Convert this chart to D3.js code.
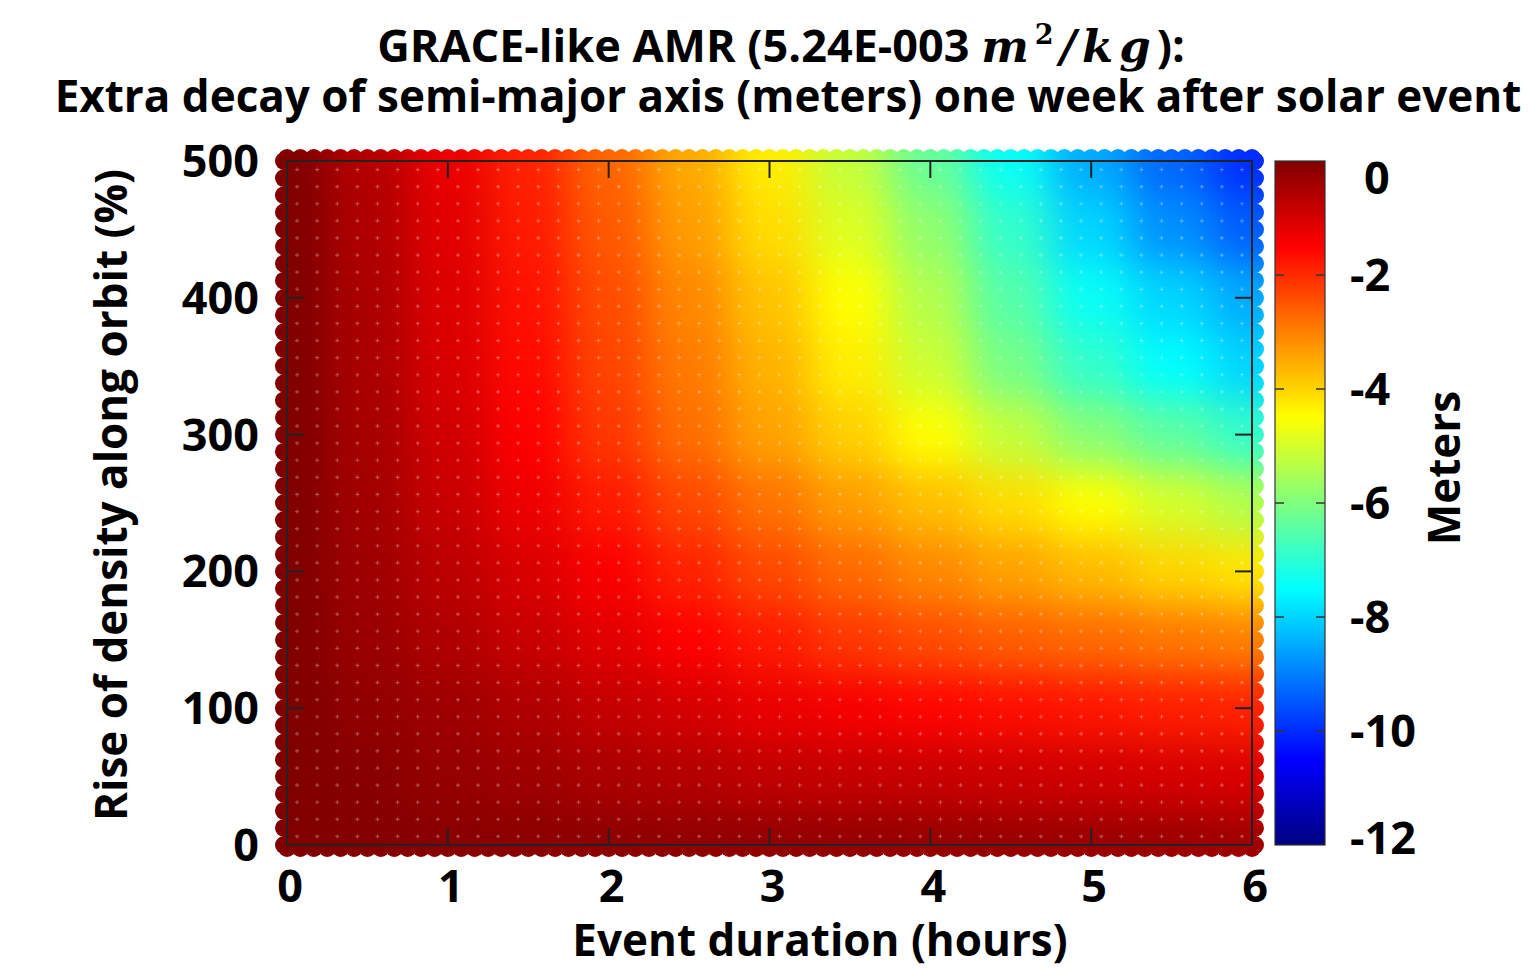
<!DOCTYPE html>
<meta charset="utf-8">
<script src="https://d3js.org/d3.v7.min.js"></script>
<style>
  body { margin: 0; background: #fff; }
  text { font-family: "Open Sans", Lato, sans-serif; font-weight: bold; fill: #000; }
</style>
<div id="chart"></div>
<script>

// event duration (hours), one column per value
var durationHours = [0, 0.5, 1, 1.5, 2, 2.5, 3, 3.5, 4, 4.5, 5, 5.5, 6];
// rise of density along orbit (%), one row per value, top row first
var densityRise = [500, 450, 400, 350, 300, 250, 200, 150, 100, 50, 0];
// extra decay of semi-major axis (meters), rows follow densityRise
var decayRows = [
  [0, -0.6,  -1.25, -1.9,  -2.7,  -3.5,  -4.3,  -5.2,  -6.3,  -7.4,  -8.5,  -9.3,  -10.0],
  [0, -0.55, -1.15, -1.8,  -2.55, -3.35, -4.1,  -4.9,  -5.8,  -6.9,  -8.0,  -8.8,  -9.4],
  [0, -0.5,  -1.1,  -1.7,  -2.4,  -3.1,  -3.8,  -4.5,  -5.4,  -6.5,  -7.4,  -8.0,  -8.5],
  [0, -0.5,  -1.05, -1.6,  -2.3,  -2.95, -3.6,  -4.3,  -5.1,  -6.1,  -6.9,  -7.5,  -8.0],
  [0, -0.45, -0.95, -1.5,  -2.15, -2.8,  -3.4,  -3.95, -4.5,  -5.2,  -5.9,  -6.4,  -6.9],
  [0, -0.4,  -0.85, -1.3,  -1.8,  -2.35, -2.85, -3.35, -3.75, -4.1,  -4.5,  -5.0,  -5.4],
  [0, -0.35, -0.7,  -1.05, -1.45, -1.9,  -2.35, -2.75, -3.1,  -3.4,  -3.7,  -4.0,  -4.2],
  [0, -0.3,  -0.55, -0.85, -1.15, -1.5,  -1.8,  -2.15, -2.4,  -2.6,  -2.75, -2.9,  -3.0],
  [0, -0.2,  -0.35, -0.55, -0.8,  -1.0,  -1.25, -1.4,  -1.55, -1.65, -1.75, -1.85, -1.9],
  [0, -0.1,  -0.25, -0.35, -0.5,  -0.6,  -0.75, -0.8,  -0.85, -0.9,  -0.95, -1.0,  -1.05],
  [0, -0.05, -0.1,  -0.12, -0.15, -0.18, -0.2,  -0.22, -0.25, -0.27, -0.3,  -0.32, -0.35]
];

var xTickValues = [0, 1, 2, 3, 4, 5, 6];
var yTickValues = [0, 100, 200, 300, 400, 500];
var colorTickValues = [0, -2, -4, -6, -8, -10, -12];

var width = 1529, height = 969;

var svg = d3.select("#chart")
  .append("svg")
    .attr("width", width)
    .attr("height", height);

var defs = svg.append("defs");

// scales
var x = d3.scaleLinear().domain([0, 6]).range([287, 1252]);
var y = d3.scaleLinear().domain([0, 500]).range([845, 161]);
var cy = d3.scaleLinear().domain([-12, 0]).range([845, 161]);

// jet colormap
var jetStops = [-12, -10.5, -7.5, -4.5, -1.5, 0];
var jetColors = ["#000080", "#0000ff", "#00ffff", "#ffff00", "#ff0000", "#800000"];
var color = d3.scaleLinear().domain(jetStops).range(jetColors).clamp(true);

// flatten the grid
var cells = [];
densityRise.forEach(function(r, i) {
  durationHours.forEach(function(d, j) {
    cells.push({d: d, r: r, v: decayRows[i][j]});
  });
});

// scalloped clip around the plot box
var clip = defs.append("clipPath").attr("id", "plotClip");
clip.append("rect")
  .attr("x", x(0) - 3).attr("y", y(500) - 3)
  .attr("width", x(6) - x(0) + 6).attr("height", y(0) - y(500) + 6);
d3.range(x(0), x(6) + 0.1, (x(6) - x(0)) / 72).forEach(function(cx) {
  clip.append("circle").attr("cx", cx).attr("cy", y(500) - 3).attr("r", 9);
  clip.append("circle").attr("cx", cx).attr("cy", y(0) + 3).attr("r", 9);
});
d3.range(y(500), y(0) + 0.1, (y(0) - y(500)) / 40).forEach(function(cyy) {
  clip.append("circle").attr("cx", x(0) - 3).attr("cy", cyy).attr("r", 9);
  clip.append("circle").attr("cx", x(6) + 3).attr("cy", cyy).attr("r", 9);
});

// smoothing filter
defs.append("filter")
    .attr("id", "smooth")
    .attr("filterUnits", "userSpaceOnUse")
    .attr("x", 150).attr("y", 50).attr("width", 1250).attr("height", 900)
    .attr("color-interpolation-filters", "sRGB")
  .append("feGaussianBlur")
    .attr("stdDeviation", 20);

var halfW = (x(0.5) - x(0)) / 2;
var halfH = (y(0) - y(50)) / 2;
var pad = 60;

var heat = svg.append("g").attr("clip-path", "url(#plotClip)");
heat.append("g")
    .attr("filter", "url(#smooth)")
  .selectAll("rect")
  .data(cells)
  .enter()
  .append("rect")
    .attr("x", function(c) { return x(c.d) - halfW - (c.d === 0 ? pad : 0); })
    .attr("y", function(c) { return y(c.r) - halfH - (c.r === 500 ? pad : 0); })
    .attr("width", function(c) { return 2 * halfW + 0.5 + (c.d === 0 || c.d === 6 ? pad : 0); })
    .attr("height", function(c) { return 2 * halfH + 0.5 + (c.r === 0 || c.r === 500 ? pad : 0); })
    .attr("fill", function(c) { return color(c.v); });

// faint marker texture
var dotX = d3.range(48).map(function(i) { return x(0.0625 + 0.125 * i); });
var dotY = d3.range(40).map(function(j) { return y(6.25 + 12.5 * j); });
var dots = [];
dotY.forEach(function(py) { dotX.forEach(function(px) { dots.push([px, py]); }); });
heat.append("g")
  .selectAll("path")
  .data(dots)
  .enter()
  .append("path")
    .attr("d", function(p) { return "M" + (p[0] - 2) + "," + p[1] + "h4M" + p[0] + "," + (p[1] - 2) + "v4"; })
    .attr("stroke", "#fff")
    .attr("stroke-opacity", 0.3)
    .attr("stroke-width", 1.2);

// plot box and inner ticks
var frame = svg.append("g").attr("stroke", "#222").attr("stroke-width", 2).attr("fill", "none");
frame.append("rect")
  .attr("x", x(0)).attr("y", y(500))
  .attr("width", x(6) - x(0)).attr("height", y(0) - y(500));
xTickValues.slice(1, -1).forEach(function(t) {
  frame.append("line").attr("x1", x(t)).attr("x2", x(t)).attr("y1", y(0)).attr("y2", y(0) - 17);
  frame.append("line").attr("x1", x(t)).attr("x2", x(t)).attr("y1", y(500)).attr("y2", y(500) + 17);
});
yTickValues.slice(1, -1).forEach(function(t) {
  frame.append("line").attr("y1", y(t)).attr("y2", y(t)).attr("x1", x(0)).attr("x2", x(0) + 17);
  frame.append("line").attr("y1", y(t)).attr("y2", y(t)).attr("x1", x(6)).attr("x2", x(6) - 17);
});

// tick labels
svg.append("g").selectAll("text")
  .data(xTickValues).enter().append("text")
    .attr("x", function(t) { return x(t) + 3; })
    .attr("y", 902)
    .attr("text-anchor", "middle")
    .style("font-size", "45px")
    .text(function(t) { return t; });

svg.append("g").selectAll("text")
  .data(yTickValues).enter().append("text")
    .attr("x", 259)
    .attr("y", function(t) { return y(t) + 16; })
    .attr("text-anchor", "end")
    .style("font-size", "45px")
    .text(function(t) { return t; });

// axis titles
svg.append("text")
  .attr("x", 820).attr("y", 956)
  .attr("text-anchor", "middle")
  .style("font-size", "44px")
  .text("Event duration (hours)");

svg.append("text")
  .attr("transform", "translate(127,495) rotate(-90)")
  .attr("text-anchor", "middle")
  .style("font-size", "44px")
  .text("Rise of density along orbit (%)");

// title
var t1 = svg.append("text")
  .attr("x", 781).attr("y", 62)
  .attr("text-anchor", "middle")
  .style("font-size", "45px");
t1.append("tspan").text("GRACE-like AMR (5.24E-003 ");
t1.append("tspan")
  .style("font-family", "'DejaVu Serif', serif").style("font-style", "italic")
  .style("letter-spacing", "6px")
  .text("m");
t1.append("tspan")
  .style("font-family", "'DejaVu Serif', serif").style("font-size", "27px")
  .attr("dy", -18)
  .style("letter-spacing", "6px")
  .text("2");
t1.append("tspan")
  .style("font-family", "'DejaVu Serif', serif").style("font-style", "italic")
  .style("letter-spacing", "6px")
  .attr("dy", 18)
  .text("/kg");
t1.append("tspan").text("):");

svg.append("text")
  .attr("x", 788).attr("y", 112)
  .attr("text-anchor", "middle")
  .style("font-size", "44px")
  .text("Extra decay of semi-major axis (meters) one week after solar event");

// colorbar
var grad = defs.append("linearGradient")
  .attr("id", "jet")
  .attr("x1", 0).attr("y1", 0).attr("x2", 0).attr("y2", 1);
jetStops.slice().reverse().forEach(function(v) {
  grad.append("stop")
    .attr("offset", (-v / 12 * 100) + "%")
    .attr("stop-color", color(v));
});

var cbX = 1275, cbW = 50;
svg.append("rect")
  .attr("x", cbX).attr("y", cy(0))
  .attr("width", cbW).attr("height", cy(-12) - cy(0))
  .attr("fill", "url(#jet)")
  .attr("stroke", "#333")
  .attr("stroke-width", 1.2);

var cbTicks = svg.append("g").attr("stroke", "#333").attr("stroke-width", 1.5);
colorTickValues.slice(1, -1).forEach(function(v) {
  cbTicks.append("line").attr("x1", cbX).attr("x2", cbX + 9).attr("y1", cy(v)).attr("y2", cy(v));
  cbTicks.append("line").attr("x1", cbX + cbW - 9).attr("x2", cbX + cbW).attr("y1", cy(v)).attr("y2", cy(v));
});

svg.append("g").selectAll("text")
  .data(colorTickValues).enter().append("text")
    .attr("x", function(v) { return v === 0 ? 1364 : 1350; })
    .attr("y", function(v) { return Math.min(Math.max(cy(v), 178), 838) + 16; })
    .style("font-size", "45px")
    .text(function(v) { return v === 0 ? "0" : "-" + Math.abs(v); });

svg.append("text")
  .attr("transform", "translate(1460,468) rotate(-90)")
  .attr("text-anchor", "middle")
  .style("font-size", "44px")
  .text("Meters");

</script>
